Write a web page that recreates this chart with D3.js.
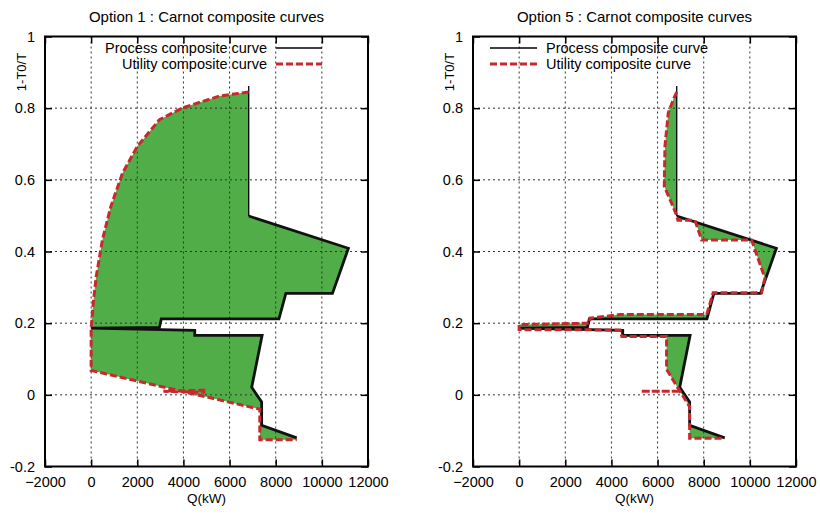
<!DOCTYPE html>
<html>
<head>
<meta charset="utf-8">
<script src="https://d3js.org/d3.v7.min.js"></script>
<title>Carnot composite curves</title>
<style>
body { margin: 0; background: #fff; }
svg { display: block; font-family: "Liberation Sans", Arial, Helvetica, sans-serif; }
</style>
</head>
<body>
<svg id="svg" width="820" height="514"></svg>
<script>

// shared axis ticks
let xTicks = [-2000, 0, 2000, 4000, 6000, 8000, 10000, 12000];
let yTicks = [-0.2, 0, 0.2, 0.4, 0.6, 0.8, 1];
let yTickLabels = ["-0.2", "0", "0.2", "0.4", "0.6", "0.8", "1"];

let seriesNames = ["Process composite curve", "Utility composite curve"];
let titles = ["Option 1 : Carnot composite curves", "Option 5 : Carnot composite curves"];

// process composite curve [Q (kW), 1-T0/T] - same process in both options
let processCurve = [
  [6830, 0.862], [6830, 0.499], [11150, 0.409], [10460, 0.283], [8440, 0.283],
  [8140, 0.212], [3040, 0.212], [2960, 0.188], [0, 0.186], [4490, 0.180],
  [4490, 0.166], [7410, 0.166], [6960, 0.021], [7390, -0.020], [7390, -0.085],
  [8910, -0.120]
];

// option 1 utility composite curve
let opt1Utility = [
  [6830, 0.845], [5570, 0.834], [3970, 0.801], [2960, 0.768], [2010, 0.694],
  [1360, 0.619], [855, 0.526], [490, 0.433], [220, 0.330], [90, 0.255],
  [20, 0.200], [0, 0.188], [0, 0.068], [7310, -0.040], [7310, -0.125],
  [8910, -0.125]
];
let opt1Spike = [[4950, 0.013], [3130, 0.010], [4950, 0.007]];

// option 5 utility composite curve
let opt5Utility = [
  [6830, 0.845], [6680, 0.824], [6465, 0.787], [6320, 0.694], [6290, 0.582],
  [6540, 0.545], [6830, 0.500], [6880, 0.487], [7620, 0.487], [7910, 0.432],
  [10075, 0.432], [10650, 0.326], [10510, 0.285], [8410, 0.285], [8130, 0.224],
  [4370, 0.224], [3070, 0.214], [3050, 0.200], [0, 0.196], [0, 0.182],
  [4370, 0.181], [4450, 0.163], [6390, 0.163], [6390, 0.071], [6960, 0.011],
  [7390, -0.033], [7390, -0.121], [8910, -0.121]
];
let opt5Spike = [[6960, 0.010], [5270, 0.010], [6960, 0.010]];

let panels = [
  { left: 45, title: titles[0], utility: opt1Utility, spike: opt1Spike, legendRight: true },
  { left: 473, title: titles[1], utility: opt5Utility, spike: opt5Spike, legendRight: false }
];

let plotW = 323, plotTop = 36.5, plotBottom = 466.5;
let green = "#50ad48", red = "#c9282e";

let svg = d3.select("svg");

function drawPanel(p) {
  let x = d3.scaleLinear().domain([-2000, 12000]).range([p.left, p.left + plotW]);
  let y = d3.scaleLinear().domain([-0.2, 1]).range([plotBottom, plotTop]);
  let g = svg.append("g");

  let line = d3.line().x(d => x(d[0])).y(d => y(d[1]));

  // green area between the two curves
  let poly = processCurve.concat(p.utility.slice().reverse());
  g.append("path")
    .attr("d", line(poly) + "Z")
    .attr("fill", green)
    .attr("stroke", "none");

  // dotted grid
  xTicks.slice(1, -1).forEach(function(t) {
    g.append("line")
      .attr("x1", x(t)).attr("x2", x(t)).attr("y1", plotTop).attr("y2", plotBottom)
      .attr("stroke", "#333").attr("stroke-width", 1).attr("stroke-dasharray", "2,3");
  });
  yTicks.slice(1, -1).forEach(function(t) {
    g.append("line")
      .attr("x1", p.left).attr("x2", p.left + plotW).attr("y1", y(t)).attr("y2", y(t))
      .attr("stroke", "#333").attr("stroke-width", 1).attr("stroke-dasharray", "2,3");
  });

  // axes with inward ticks (mirrored on top/right)
  let ax = g.append("g").attr("transform", "translate(0," + plotBottom + ")")
    .call(d3.axisBottom(x).tickValues(xTicks).tickSize(-7).tickPadding(10).tickFormat(d3.format("d")));
  let ay = g.append("g").attr("transform", "translate(" + p.left + ",0)")
    .call(d3.axisLeft(y).tickValues(yTicks).tickSize(-7).tickPadding(10)
      .tickFormat((d, i) => yTickLabels[i]));
  let at = g.append("g").attr("transform", "translate(0," + plotTop + ")")
    .call(d3.axisTop(x).tickValues(xTicks).tickSize(-7).tickFormat(""));
  let ar = g.append("g").attr("transform", "translate(" + (p.left + plotW) + ",0)")
    .call(d3.axisRight(y).tickValues(yTicks).tickSize(-7).tickFormat(""));
  [ax, ay, at, ar].forEach(function(a) {
    a.select(".domain").remove();
    a.selectAll(".tick line").attr("stroke", "#000").attr("stroke-width", 1.5);
    a.selectAll("text").attr("font-size", 14.5).attr("fill", "#000")
      .attr("font-family", "Liberation Sans, Arial, sans-serif");
  });

  // process curve: thin top edge, thick rest
  g.append("path")
    .attr("d", line(processCurve.slice(0, 2)))
    .attr("fill", "none").attr("stroke", "#000").attr("stroke-width", 1.3);
  g.append("path")
    .attr("d", line(processCurve.slice(1)))
    .attr("fill", "none").attr("stroke", "#111").attr("stroke-width", 2.8)
    .attr("stroke-linejoin", "miter");

  // utility curve, dashed red
  [p.utility, p.spike].forEach(function(s) {
    g.append("path")
      .attr("d", line(s))
      .attr("fill", "none").attr("stroke", red).attr("stroke-width", 3)
      .attr("stroke-dasharray", "7,3");
  });

  // frame
  g.append("rect")
    .attr("x", p.left).attr("y", plotTop).attr("width", plotW).attr("height", plotBottom - plotTop)
    .attr("fill", "none").attr("stroke", "#000").attr("stroke-width", 2);

  // title and axis labels
  g.append("text")
    .attr("x", p.left + plotW / 2).attr("y", 22)
    .attr("text-anchor", "middle").attr("font-size", 15)
    .text(p.title);
  g.append("text")
    .attr("x", p.left + plotW / 2).attr("y", 503)
    .attr("text-anchor", "middle").attr("font-size", 13.5)
    .text("Q(kW)");
  g.append("text")
    .attr("transform", "translate(" + (p.left - 19) + ",72) rotate(-90)")
    .attr("text-anchor", "middle").attr("font-size", 13)
    .text("1-T0/T");

  // legend
  let rows = [
    { name: seriesNames[0], color: "#000", width: 1.5, dash: null },
    { name: seriesNames[1], color: red, width: 3, dash: "7,3" }
  ];
  rows.forEach(function(r, i) {
    let ly = 48 + i * 16;
    let sx1, sx2, tx, anchor;
    if (p.legendRight) {
      sx1 = p.left + 231; sx2 = p.left + 277; tx = p.left + 222; anchor = "end";
    } else {
      sx1 = p.left + 17; sx2 = p.left + 64; tx = p.left + 73; anchor = "start";
    }
    g.append("line")
      .attr("x1", sx1).attr("x2", sx2).attr("y1", ly).attr("y2", ly)
      .attr("stroke", r.color).attr("stroke-width", r.width)
      .attr("stroke-dasharray", r.dash);
    g.append("text")
      .attr("x", tx).attr("y", ly + 5)
      .attr("text-anchor", anchor).attr("font-size", 14.5)
      .text(r.name);
  });
}

panels.forEach(drawPanel);

</script>
</body>
</html>
